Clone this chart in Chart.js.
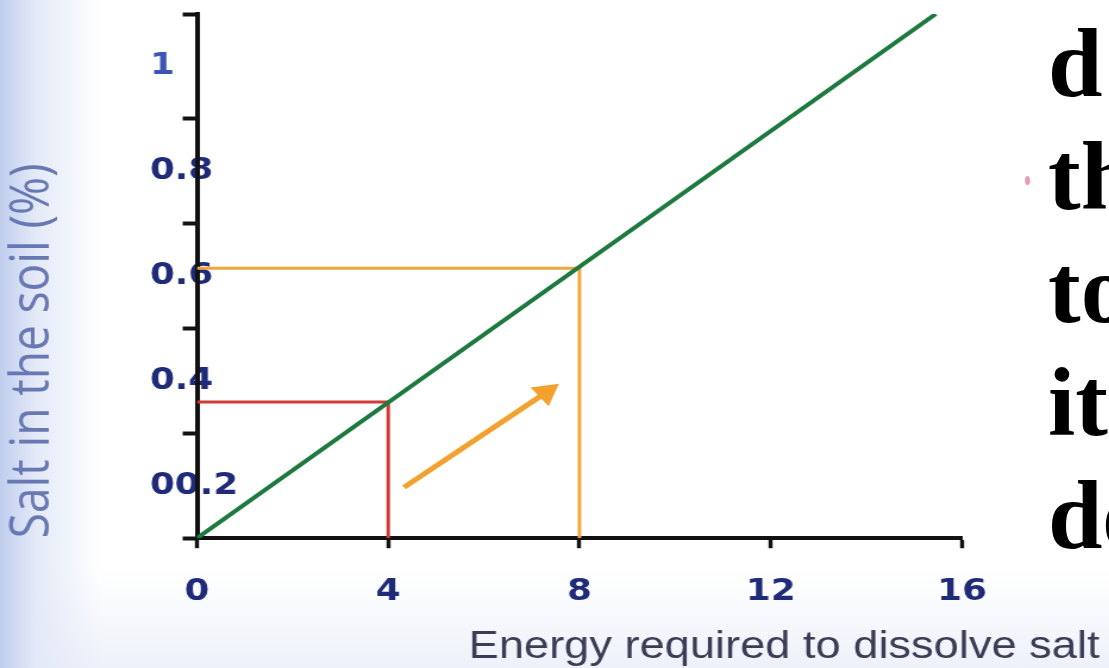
<!DOCTYPE html>
<html>
<head>
<meta charset="utf-8">
<title>Salt in the soil</title>
<script src="https://cdn.jsdelivr.net/npm/chart.js@4/dist/chart.umd.min.js"></script>
<style>
  html, body {
    margin: 0;
    padding: 0;
    width: 1109px;
    height: 668px;
    overflow: hidden;
  }
  body {
    position: relative;
    background:
      linear-gradient(to right, #c0cded 0px, #e3e9f7 35px, rgba(255,255,255,0) 100px),
      linear-gradient(to bottom, #ffffff 570px, #eef1fa 668px);
  }
  /* the graph is drawn narrow and stretched sideways */
  #wrap {
    position: absolute;
    left: 0;
    top: 0;
    width: 932px;
    height: 668px;
    transform: scaleX(1.19);
    transform-origin: 0 0;
  }
  #side {
    position: absolute;
    left: 1048px;
    top: 7px;
    font-family: "Liberation Serif", serif;
    font-weight: bold;
    font-size: 98px;
    line-height: 113px;
    color: #000;
    white-space: nowrap;
  }
  #dot {
    position: absolute;
    left: 1025px;
    top: 176px;
    width: 5px;
    height: 9px;
    border-radius: 50%;
    background: #e2587a;
    opacity: 0.6;
  }
</style>
</head>
<body>
<div id="wrap"><canvas id="saltChart"></canvas></div>
<div id="dot"></div>
<div id="side">d<br>th<br>to<br>it<br>de</div>

<script>
// Green line: salt in the soil against energy needed
const lineX = [0, 15.45];
const lineY = [0.1, 1.1];

// Red guide at energy 4
const redX = [0, 4, 4];
const redY = [0.36, 0.36, 0.1];

// Orange guide at energy 8
const orangeX = [0, 8, 8];
const orangeY = [0.615, 0.615, 0.1];

// Orange arrow along the line
const arrowX = [4.33, 7.3];
const arrowY = [0.197, 0.378];

// Axis ticks
const xTickStep = 4;
const yTickMarks = [0.1, 0.3, 0.5, 0.7, 0.9, 1.1];
const yTickValues = [0.2, 0.4, 0.6, 0.8, 1.0];
const yTickLabels = ["00.2", "0.4", "0.6", "0.8", "1"];

const toPoints = (xs, ys) => xs.map((x, i) => ({ x: x, y: ys[i] }));
const near = (a, b) => Math.abs(a - b) < 1e-6;

Chart.defaults.font.family = "'DejaVu Sans', sans-serif";

const ctx = document.getElementById("saltChart").getContext("2d");
new Chart(ctx, {
    type: "line",
    data: {
        datasets: [
            {
                data: toPoints(lineX, lineY),
                borderColor: "#1d7a3f",
                borderWidth: 4,
                pointRadius: 0,
            },
            {
                data: toPoints(arrowX, arrowY),
                borderColor: "#f2a12e",
                borderWidth: 5,
                pointRadius: [0, 9],
                pointStyle: "triangle",
                pointRotation: 51,
                pointBackgroundColor: "#f2a12e",
                pointBorderColor: "#f2a12e",
            },
            {
                data: toPoints(redX, redY),
                borderColor: "#cf3b36",
                borderWidth: 3,
                pointRadius: 0,
            },
            {
                data: toPoints(orangeX, orangeY),
                borderColor: "#f1a53a",
                borderWidth: 3,
                pointRadius: 0,
            },
        ],
    },
    options: {
        responsive: true,
        maintainAspectRatio: false,
        animation: false,
        layout: {
            padding: { top: 13, left: 0, right: 8, bottom: 0 },
        },
        plugins: {
            legend: { display: false },
            tooltip: { enabled: false },
            title: {
                display: true,
                position: "bottom",
                align: "end",
                text: "Energy required to dissolve salt",
                color: "#3b3c55",
                font: { family: "'Liberation Sans', Arial, sans-serif", size: 38, weight: "normal", lineHeight: 1.1 },
                padding: { top: 0, bottom: 0 },
            },
        },
        scales: {
            x: {
                type: "linear",
                min: 0,
                max: 16,
                afterFit: (scale) => { scale.height = 88; },
                ticks: {
                    stepSize: xTickStep,
                    color: "#1f2b78",
                    font: { size: 30, weight: "bold" },
                    padding: 26,
                },
                grid: {
                    drawOnChartArea: false,
                    tickLength: 10,
                    tickWidth: 3.4,
                    tickColor: "#111",
                },
                border: { color: "#111", width: 4 },
            },
            y: {
                type: "linear",
                min: 0.1,
                max: 1.1,
                afterFit: (scale) => { scale.width = 165.5; },
                afterBuildTicks: (scale) => {
                    scale.ticks = yTickMarks.concat(yTickValues)
                        .sort((a, b) => a - b)
                        .map((v) => ({ value: v }));
                },
                ticks: {
                    mirror: true,
                    padding: -39.5,
                    z: -1,
                    color: (c) => (c.tick && near(c.tick.value, 1.0) ? "#3c56b8" : "#1f2b78"),
                    font: { size: 30, weight: "bold" },
                    callback: (value) => {
                        const i = yTickValues.findIndex((v) => near(v, value));
                        return i >= 0 ? yTickLabels[i] : "";
                    },
                },
                grid: {
                    drawOnChartArea: false,
                    tickLength: 12,
                    tickWidth: 4,
                    tickColor: (c) => (c.tick && yTickMarks.some((v) => near(v, c.tick.value)) ? "#111" : "rgba(0,0,0,0)"),
                },
                border: { color: "#111", width: 4 },
                title: {
                    display: true,
                    text: "Salt in the soil (%)",
                    align: "start",
                    color: "#6878b2",
                    font: { family: "'Open Sans', sans-serif", size: 46, weight: "normal" },
                    padding: { top: 0, bottom: 0 },
                },
            },
            yPad: {
                position: "right",
                display: true,
                afterFit: (scale) => { scale.width = 115.6; },
                ticks: { display: false },
                grid: { display: false, drawTicks: false },
                border: { display: false },
            },
        },
    },
});
</script>
</body>
</html>
